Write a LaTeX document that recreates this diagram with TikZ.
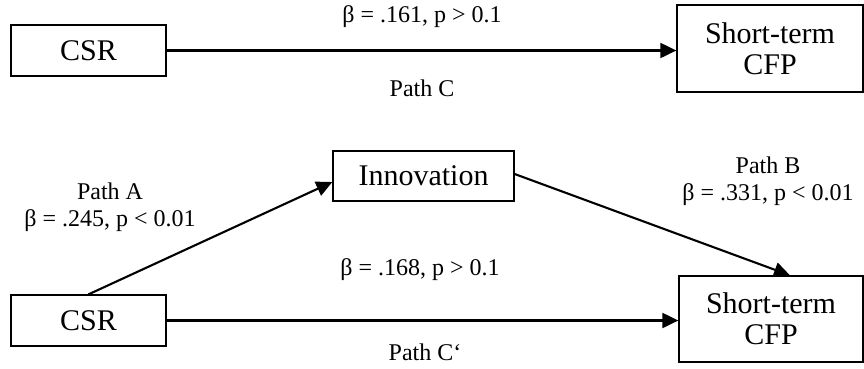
\documentclass[tikz,border=0pt]{standalone}
\usepackage{fontspec}
\setmainfont{Liberation Serif}
\usetikzlibrary{arrows.meta}
\begin{document}
\begin{tikzpicture}[x=1pt,y=-1pt,
  box/.style={draw,line width=1.3pt,inner sep=0pt,font=\fontsize{30}{31}\selectfont,align=center},
  lbl/.style={inner sep=0pt,font=\fontsize{24}{27}\selectfont,align=center},
  arr/.style={line width=2.1pt,-{Triangle[length=16pt,width=15pt]}}]
\useasboundingbox (0,0) rectangle (864,368);
% top model
\node[box,minimum width=155pt,minimum height=51pt] (csr1) at (88.5,50.5) {CSR};
\node[box,minimum width=186pt,minimum height=87pt] (cfp1) at (770,48.5) {Short-term\\CFP};
\draw[arr] (csr1.east) -- (csr1.east -| cfp1.west);
\node[lbl] (l1) at (422,17) {β = .161, p > 0.1};
\node[lbl] (l2) at (422,88) {Path C};
% bottom model
\node[box,minimum width=181pt,minimum height=50pt] (inn) at (423.5,176) {Innovation};
\node[box,minimum width=155pt,minimum height=51pt] (csr2) at (88.5,320.5) {CSR};
\node[box,minimum width=184pt,minimum height=86pt] (cfp2) at (771,319) {Short-term\\CFP};
\draw[arr] (csr2.north) -- ([yshift=-6pt]inn.west);
\draw[arr] ([yshift=2pt]inn.east) -- ([xshift=19pt]cfp2.north);
\draw[arr] (csr2.east) -- (csr2.east -| cfp2.west);
\node[lbl] (la) at (110,207) {Path A\\β = .245, p < 0.01};
\node[lbl] (lb) at (768,181) {Path B\\β = .331, p < 0.01};
\node[lbl] (lc) at (420,270) {β = .168, p > 0.1};
\node[lbl] (ld) at (425,352) {Path C‘};
\end{tikzpicture}
\end{document}
